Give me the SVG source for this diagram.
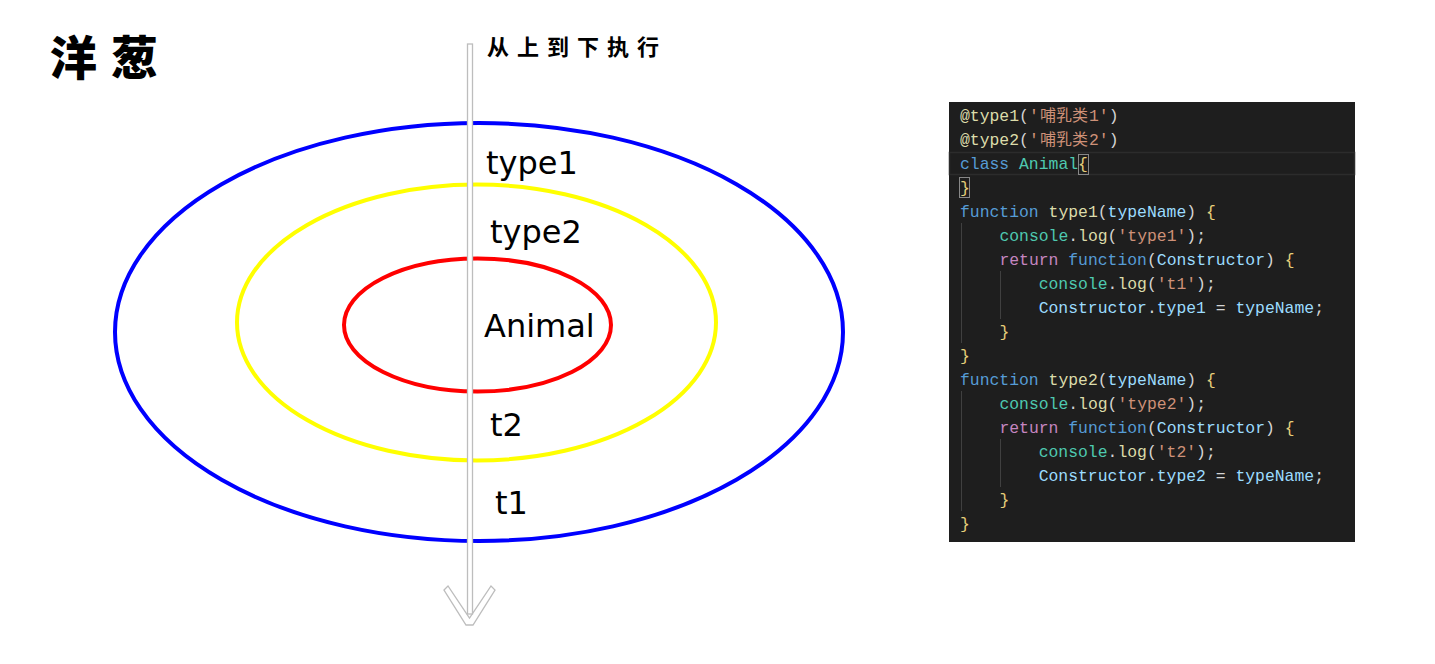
<svg xmlns="http://www.w3.org/2000/svg" width="1435" height="664" viewBox="0 0 1435 664">
<style>
.ring{fill:none;stroke-width:4}
.lbl{font-family:"DejaVu Sans",sans-serif;font-size:32px;fill:#000}
.code{font-family:"Liberation Mono","Noto Sans CJK SC",monospace;font-size:16.4px;fill:#d4d4d4;white-space:pre}
.cjk{font-family:"Noto Sans CJK SC",sans-serif;font-size:16px}
.kw{fill:#569cd6}.fn{fill:#dcdcaa}.ty{fill:#4ec9b0}.str{fill:#ce9178}.var{fill:#9cdcfe}.ctl{fill:#c586c0}.br{fill:#e6cf7a}
.guide{stroke:#404040;stroke-width:1}
.arrow{fill:#fff;stroke:#bdbdbd;stroke-width:1.3}
</style>
<rect width="1435" height="664" fill="#fff"/>
<g id="title">
<text x="50" y="75" font-family="Noto Sans CJK SC,sans-serif" font-size="47" font-weight="900">洋</text>
<text x="111" y="75" font-family="Noto Sans CJK SC,sans-serif" font-size="47" font-weight="900">葱</text>
</g>
<g id="rings">
<ellipse id="ring-type1" class="ring" cx="479" cy="332" rx="364" ry="209" stroke="#0000ff"/>
<ellipse id="ring-type2" class="ring" cx="476.5" cy="322.5" rx="239.5" ry="138" stroke="#ffff00"/>
<ellipse id="ring-animal" class="ring" cx="477.5" cy="325" rx="133.5" ry="66.5" stroke="#ff0000"/>
</g>
<g id="connectors">
<polygon class="arrow" points="444,590 448,586 469.5,618 491,586 495,590 473,625 466,625"/>
<rect class="arrow" x="467.5" y="44" width="5" height="570"/>
</g>
<g id="flow-label">
<text x="487" y="55" font-family="Noto Sans CJK SC,sans-serif" font-size="22" font-weight="700" letter-spacing="8">从上到下执行</text>
</g>
<g id="labels">
<text class="lbl" x="486" y="174">type1</text>
<text class="lbl" x="490" y="243">type2</text>
<text class="lbl" x="484" y="337">Animal</text>
<text class="lbl" x="490" y="436">t2</text>
<text class="lbl" x="495" y="514">t1</text>
</g>
<g id="code-panel">
<rect x="949" y="102" width="406" height="440" fill="#1e1e1e"/>
<rect x="949.5" y="152.5" width="405" height="22" fill="none" stroke="#2c2c2c" stroke-width="1.5"/>
<rect x="1078.5" y="154.5" width="10" height="20" fill="none" stroke="#888" stroke-width="1"/>
<rect x="959.5" y="177.5" width="10" height="20" fill="none" stroke="#888" stroke-width="1"/>
<line class="guide" x1="961.5" y1="223" x2="961.5" y2="343"/>
<line class="guide" x1="1000.5" y1="271" x2="1000.5" y2="319"/>
<line class="guide" x1="961.5" y1="391" x2="961.5" y2="511"/>
<line class="guide" x1="1000.5" y1="439" x2="1000.5" y2="487"/>
<g class="code" xml:space="preserve">
<text x="960" y="121"><tspan class="fn">@type1</tspan>(<tspan class="str">'</tspan></text>
<text class="cjk" x="1040" y="121" fill="#ce9178">哺乳类</text>
<text x="1089" y="121"><tspan class="str">1'</tspan>)</text>
<text x="960" y="145"><tspan class="fn">@type2</tspan>(<tspan class="str">'</tspan></text>
<text class="cjk" x="1040" y="145" fill="#ce9178">哺乳类</text>
<text x="1089" y="145"><tspan class="str">2'</tspan>)</text>
<text x="960" y="169"><tspan class="kw">class</tspan> <tspan class="ty">Animal</tspan><tspan class="br">{</tspan></text>
<text x="960" y="193"><tspan class="br">}</tspan></text>
<text x="960" y="217"><tspan class="kw">function</tspan> <tspan class="fn">type1</tspan>(<tspan class="var">typeName</tspan>) <tspan class="br">{</tspan></text>
<text x="999.4" y="241"><tspan class="ty">console</tspan>.<tspan class="fn">log</tspan>(<tspan class="str">'type1'</tspan>);</text>
<text x="999.4" y="265"><tspan class="ctl">return</tspan> <tspan class="kw">function</tspan>(<tspan class="var">Constructor</tspan>) <tspan class="br">{</tspan></text>
<text x="1038.7" y="289"><tspan class="ty">console</tspan>.<tspan class="fn">log</tspan>(<tspan class="str">'t1'</tspan>);</text>
<text x="1038.7" y="313"><tspan class="var">Constructor</tspan>.<tspan class="var">type1</tspan> = <tspan class="var">typeName</tspan>;</text>
<text x="999.4" y="337"><tspan class="br">}</tspan></text>
<text x="960" y="361"><tspan class="br">}</tspan></text>
<text x="960" y="385"><tspan class="kw">function</tspan> <tspan class="fn">type2</tspan>(<tspan class="var">typeName</tspan>) <tspan class="br">{</tspan></text>
<text x="999.4" y="409"><tspan class="ty">console</tspan>.<tspan class="fn">log</tspan>(<tspan class="str">'type2'</tspan>);</text>
<text x="999.4" y="433"><tspan class="ctl">return</tspan> <tspan class="kw">function</tspan>(<tspan class="var">Constructor</tspan>) <tspan class="br">{</tspan></text>
<text x="1038.7" y="457"><tspan class="ty">console</tspan>.<tspan class="fn">log</tspan>(<tspan class="str">'t2'</tspan>);</text>
<text x="1038.7" y="481"><tspan class="var">Constructor</tspan>.<tspan class="var">type2</tspan> = <tspan class="var">typeName</tspan>;</text>
<text x="999.4" y="505"><tspan class="br">}</tspan></text>
<text x="960" y="529"><tspan class="br">}</tspan></text>
</g>
</g>
</svg>
